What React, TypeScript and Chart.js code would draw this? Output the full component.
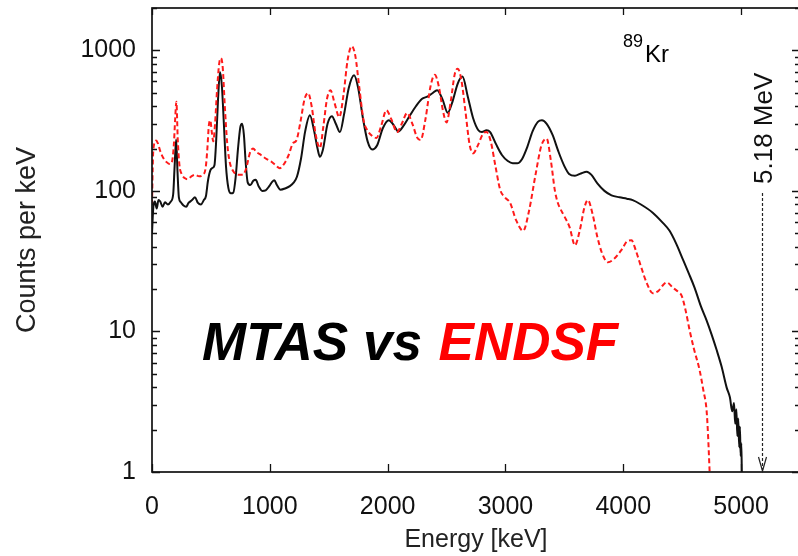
import React, { useEffect, useRef } from "react";
import { Chart, registerables } from "chart.js";

Chart.register(...registerables);

// ---- Data ----
const mtasEnergy = [
  0, 12, 25, 40, 55, 70, 90, 110, 135, 160, 180, 192, 205, 216, 228, 245, 265, 290, 310, 340,
  365, 390, 415, 440, 458, 475, 495, 515, 530, 545, 560, 577, 593, 610, 628, 648, 670, 690, 710, 730,
  750, 765, 780, 795, 812, 835, 860, 880, 905, 935, 965, 995, 1020, 1038, 1060, 1090, 1130, 1170, 1200, 1230,
  1265, 1300, 1340, 1375, 1405, 1425, 1450, 1490, 1527, 1560, 1595, 1630, 1670, 1715, 1750, 1790, 1830, 1870, 1910, 1960,
  2010, 2050, 2090, 2140, 2190, 2240, 2290, 2340, 2380, 2420, 2465, 2510, 2550, 2595, 2635, 2680, 2725, 2770, 2800, 2840,
  2870, 2920, 2970, 3020, 3062, 3100, 3140, 3185, 3230, 3275, 3310, 3350, 3400, 3450, 3500, 3540, 3590, 3640, 3690, 3730,
  3780, 3840, 3900, 3968, 4030, 4080, 4150, 4250, 4330, 4393, 4450, 4503, 4555, 4605, 4660, 4707, 4750, 4792, 4835, 4877,
  4905, 4925, 4940, 4950, 4960, 4968, 4976, 4984, 4990, 4996, 5002, 5006,
];
const mtasCounts = [
  50, 78, 84, 75, 86, 84, 77, 83, 80, 84, 95, 150, 232, 140, 90, 83, 79, 77, 82, 86,
  90, 82, 80, 86, 92, 118, 140, 146, 152, 230, 440, 700, 560, 300, 150, 105, 96, 97, 125, 200,
  285, 300, 250, 160, 115, 110, 118, 120, 108, 100, 101, 108, 116, 119, 110, 102, 104, 108, 114, 126,
  170, 265, 345, 270, 200, 175, 195, 300, 340, 300, 262, 350, 540, 665, 540, 330, 225, 197, 210, 280,
  318, 295, 265, 295, 345, 400, 450, 470, 495, 520, 450, 360, 430, 580, 650, 470, 330, 270, 262, 270,
  262, 215, 180, 163, 157, 157, 168, 205, 265, 310, 318, 300, 250, 190, 150, 132, 128, 133, 137, 130,
  113, 100, 93, 90, 88, 86, 80, 70, 60, 52, 42, 33, 26, 20.5, 15, 12, 9.5, 7.4, 5.6, 4.0,
  3.4, 2.7, 3.1, 2.2, 2.8, 1.8, 2.4, 1.5, 2.1, 1.3, 1.6, 1.0,
];

const endsfEnergy = [
  0, 8, 18, 35, 50, 70, 95, 125, 150, 170, 185, 197, 207, 218, 232, 255, 280, 300, 330, 365,
  400, 430, 455, 470, 482, 495, 508, 520, 535, 552, 570, 585, 600, 618, 638, 660, 690, 730, 770, 800,
  830, 857, 890, 925, 965, 1010, 1050, 1085, 1120, 1160, 1196, 1225, 1260, 1295, 1325, 1355, 1390, 1425, 1455, 1485,
  1515, 1550, 1590, 1625, 1660, 1695, 1725, 1760, 1795, 1830, 1870, 1905, 1945, 1990, 2030, 2080, 2120, 2165, 2210, 2250,
  2280, 2320, 2365, 2400, 2435, 2470, 2500, 2535, 2570, 2595, 2625, 2660, 2695, 2725, 2765, 2810, 2840, 2875, 2915, 2955,
  2995, 3040, 3090, 3150, 3200, 3255, 3305, 3350, 3385, 3420, 3445, 3500, 3545, 3590, 3630, 3670, 3700, 3740, 3780, 3820,
  3870, 3925, 3985, 4035, 4070, 4105, 4150, 4200, 4250, 4300, 4340, 4370, 4420, 4470, 4495, 4530, 4563, 4600, 4648, 4680,
  4707, 4720, 4733,
];
const endsfCounts = [
  80, 170, 215, 228, 218, 192, 172, 160, 155, 162, 210, 330, 430, 240, 155, 130, 123, 121, 126, 130,
  127, 130, 145, 200, 290, 318, 260, 225, 300, 520, 800, 880, 760, 400, 220, 160, 138, 130, 130, 145,
  185, 200, 188, 180, 170, 162, 152, 145, 155, 180, 218, 228, 310, 450, 497, 400, 250, 202, 290, 450,
  520, 420, 335, 480, 850, 1070, 920, 540, 320, 268, 245, 238, 290, 375, 325, 262, 300, 358, 300, 240,
  230, 320, 560, 670, 550, 370, 307, 430, 680, 740, 620, 370, 215, 185, 210, 255, 262, 225, 150, 102,
  90, 82, 62, 52, 72, 130, 210, 235, 165, 100, 82, 66, 55, 41, 52, 76, 86, 68, 47, 36,
  31, 33, 38, 44, 44.5, 38, 29, 22, 18.7, 19.5, 21.5, 22.3, 20.5, 19, 18, 14, 10.2, 7.5, 5.3, 3.8,
  2.75, 1.8, 1.0,
];

const xTickValues = [0, 1000, 2000, 3000, 4000, 5000];
const yTickValues = [1, 10, 100, 1000];
const qValueKeV = 5180;
const qValueLabel = "5.18 MeV";
const nuclideMass = "89";
const nuclideSymbol = "Kr";
const titleLeft = "MTAS vs ";
const titleRight = "ENDSF";

const FONT = '"Liberation Sans", Arial, Helvetica, sans-serif';

const framePlugin = {
  id: "frameTicks",
  afterDatasetsDraw(chart: any) {
    const { ctx, chartArea: a, scales } = chart;
    const xs = scales.x;
    const ys = scales.y;
    ctx.save();
    ctx.strokeStyle = "#111";
    ctx.lineWidth = 1.7;
    ctx.strokeRect(a.left, a.top, a.right - a.left, a.bottom - a.top);
    ctx.lineWidth = 1.3;
    ctx.beginPath();
    for (const v of xTickValues) {
      const x = Math.round(xs.getPixelForValue(v)) + 0.5;
      ctx.moveTo(x, a.bottom);
      ctx.lineTo(x, a.bottom - 8);
      ctx.moveTo(x, a.top);
      ctx.lineTo(x, a.top + 7);
    }
    for (const d of yTickValues) {
      for (let m = 1; m <= 9; m++) {
        const v = d * m;
        if (v > ys.max) break;
        const y = Math.round(ys.getPixelForValue(v)) + 0.5;
        const len = m === 1 ? 8 : 5;
        ctx.moveTo(a.left, y);
        ctx.lineTo(a.left + len, y);
        ctx.moveTo(a.right, y);
        ctx.lineTo(a.right - len, y);
      }
    }
    ctx.stroke();
    ctx.restore();
  },
};

const annotationPlugin = {
  id: "annotations",
  afterDraw(chart: any) {
    const { ctx, chartArea: a, scales } = chart;
    const xs = scales.x;
    ctx.save();
    ctx.fillStyle = "#000";
    ctx.textBaseline = "alphabetic";
    ctx.textAlign = "left";

    // nuclide label
    ctx.font = `18px ${FONT}`;
    ctx.fillText(nuclideMass, 623, 47);
    const w89 = ctx.measureText(nuclideMass).width;
    ctx.font = `24px ${FONT}`;
    ctx.fillText(nuclideSymbol, 623 + w89 + 2, 62);

    // Q-value arrow
    const qx = Math.round(xs.getPixelForValue(qValueKeV)) + 0.5;
    ctx.strokeStyle = "#222";
    ctx.lineWidth = 1.2;
    ctx.setLineDash([3, 2]);
    ctx.beginPath();
    ctx.moveTo(qx, 193);
    ctx.lineTo(qx, a.bottom - 2);
    ctx.stroke();
    ctx.setLineDash([]);
    ctx.beginPath();
    ctx.moveTo(qx - 4, a.bottom - 15);
    ctx.lineTo(qx, a.bottom - 1);
    ctx.lineTo(qx + 4, a.bottom - 15);
    ctx.stroke();

    ctx.save();
    ctx.translate(qx + 9, 184);
    ctx.rotate(-Math.PI / 2);
    ctx.font = `26px ${FONT}`;
    ctx.fillStyle = "#111";
    ctx.fillText(qValueLabel, 0, 0);
    ctx.restore();

    // big title
    ctx.font = `italic bold 53px ${FONT}`;
    ctx.fillStyle = "#000";
    ctx.fillText(titleLeft, 202, 360);
    const wl = ctx.measureText(titleLeft).width;
    ctx.fillStyle = "#ff0000";
    ctx.fillText(titleRight, 202 + wl + 2, 360);
    ctx.restore();
  },
};

export default function App() {
  const canvasRef = useRef<HTMLCanvasElement | null>(null);

  useEffect(() => {
    const canvas = canvasRef.current;
    if (!canvas) return;
    const mtasPoints = mtasEnergy.map((e, i) => ({ x: e, y: mtasCounts[i] }));
    const endsfPoints = endsfEnergy.map((e, i) => ({ x: e, y: endsfCounts[i] }));

    const chart = new Chart(canvas, {
      type: "line",
      data: {
        datasets: [
          {
            label: "ENDSF",
            data: endsfPoints,
            borderColor: "#ff1a1a",
            borderWidth: 2,
            borderDash: [5, 3],
            pointRadius: 0,
            fill: false,
            cubicInterpolationMode: "monotone",
          },
          {
            label: "MTAS",
            data: mtasPoints,
            borderColor: "#111",
            borderWidth: 2,
            pointRadius: 0,
            fill: false,
            cubicInterpolationMode: "monotone",
          },
        ],
      },
      options: {
        animation: false,
        responsive: false,
        devicePixelRatio: 1,
        layout: { padding: { top: 8, right: 4, left: 0, bottom: 0 } },
        plugins: {
          legend: { display: false },
          tooltip: { enabled: false },
        },
        scales: {
          x: {
            type: "linear",
            min: 0,
            max: 5500,
            grid: { display: false, drawTicks: false },
            border: { display: false },
            afterBuildTicks: (s: any) => {
              s.ticks = xTickValues.map((value) => ({ value }));
            },
            afterFit: (s: any) => {
              s.height = 84;
              s.paddingLeft = 0;
              s.paddingRight = 0;
            },
            ticks: {
              autoSkip: false,
              maxRotation: 0,
              padding: 20,
              color: "#111",
              font: { family: FONT, size: 25 },
              callback: (v: any) => String(v),
            },
            title: {
              display: true,
              text: "Energy [keV]",
              color: "#222",
              font: { family: FONT, size: 25 },
              padding: { top: 0, bottom: 1 },
            },
          },
          y: {
            type: "logarithmic",
            min: 1,
            max: 2000,
            grid: { display: false, drawTicks: false },
            border: { display: false },
            afterBuildTicks: (s: any) => {
              s.ticks = yTickValues.map((value) => ({ value }));
            },
            afterFit: (s: any) => {
              s.width = 152;
              s.paddingTop = 0;
              s.paddingBottom = 0;
            },
            ticks: {
              autoSkip: false,
              padding: 16,
              color: "#111",
              font: { family: FONT, size: 25 },
              callback: (v: any) => String(v),
            },
            title: {
              display: true,
              text: "Counts per keV",
              color: "#222",
              font: { family: FONT, size: 27 },
              padding: { top: 11, bottom: 0 },
            },
          },
        },
      },
      plugins: [framePlugin, annotationPlugin],
    });
    return () => chart.destroy();
  }, []);

  return (
    <div
      style={{
        position: "fixed",
        left: 0,
        top: 0,
        width: 798,
        height: 556,
        overflow: "hidden",
        background: "#fff",
      }}
    >
      <canvas
        ref={canvasRef}
        width={804}
        height={556}
        style={{ width: 804, height: 556, display: "block" }}
      />
    </div>
  );
}
